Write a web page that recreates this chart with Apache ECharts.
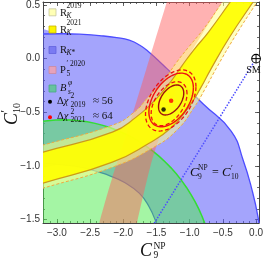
<!DOCTYPE html>
<html><head><meta charset="utf-8">
<script src="https://cdn.jsdelivr.net/npm/echarts@6/dist/echarts.min.js"></script>
<style>html,body{margin:0;padding:0;background:#fff}#c{width:266px;height:262px}</style>
</head><body><div id="c"></div>
<script>
// ---- axis ranges and ticks ----
const X_MIN = -3.209, X_MAX = 0.045, Y_MIN = -1.532, Y_MAX = 0.528;
const xMajor = [-3.0, -2.5, -2.0, -1.5, -1.0, -0.5, 0.0];
const xMinor = [-3.2,-3.1,-3.0,-2.9,-2.8,-2.7,-2.6,-2.5,-2.4,-2.3,-2.2,-2.1,-2.0,-1.9,-1.8,-1.7,-1.6,-1.5,-1.4,-1.3,-1.2,-1.1,-1.0,-0.9,-0.8,-0.7,-0.6,-0.5,-0.4,-0.3,-0.2,-0.1,0.0];
const yMajor = [-1.5, -1.0, -0.5, 0.0, 0.5];
const yMinor = [-1.5,-1.4,-1.3,-1.2,-1.1,-1.0,-0.9,-0.8,-0.7,-0.6,-0.5,-0.4,-0.3,-0.2,-0.1,0.0,0.1,0.2,0.3,0.4,0.5];

// ---- R_K bands (upper / lower edges, left to right) ----
const rk2021Upper = [[-3.30,-0.888],[-3.209,-0.872],[-2.164,-0.685],[-1.806,-0.545],[-1.537,-0.396],[-1.313,-0.237],[-1.119,-0.069],[-0.940,0.080],[-0.716,0.248],[-0.388,0.528],[-0.35,0.56]];
const rk2021Lower = [[-3.30,-1.178],[-3.209,-1.161],[-2.164,-0.965],[-1.612,-0.788],[-1.269,-0.639],[-1.015,-0.452],[-0.836,-0.275],[-0.672,-0.088],[-0.388,0.211],[-0.045,0.528],[-0.01,0.56]];
const rk2019Upper = [[-3.30,-0.822],[-3.209,-0.806],[-2.164,-0.620],[-1.836,-0.499],[-1.612,-0.349],[-1.388,-0.200],[-1.194,-0.032],[-1.015,0.108],[-0.791,0.276],[-0.507,0.528],[-0.47,0.56]];
const rk2019Lower = [[-3.30,-1.225],[-3.209,-1.208],[-2.164,-1.012],[-1.537,-0.825],[-1.194,-0.667],[-0.940,-0.461],[-0.761,-0.275],[-0.597,-0.088],[-0.313,0.211],[0.015,0.528],[0.05,0.56]];

// ---- R_K* region: outer and inner boundary ----
const rkstarOuter = [[-3.30,0.228],[-2.90,0.232],[-2.60,0.226],[-2.36,0.215],[-2.10,0.196],[-1.91,0.172],[-1.75,0.125],[-1.61,0.06],[-1.40,-0.06],[-1.22,-0.165],[-0.80,-0.42],[-0.373,-0.677],[-0.194,-0.947],[-0.06,-1.226],[0.03,-1.478],[0.06,-1.645]];
const rkstarInner = [[-3.30,-0.97],[-2.90,-0.99],[-2.60,-1.015],[-2.49,-1.035],[-2.36,-1.058],[-2.21,-1.090],[-1.98,-1.155],[-1.76,-1.254],[-1.62,-1.37],[-1.51,-1.52],[-1.46,-1.645]];

// ---- P5' region edges (top to bottom) ----
const p5Left  = [[-1.30,0.58],[-1.343,0.528],[-1.657,-0.107],[-1.910,-0.620],[-2.164,-1.105],[-2.358,-1.525],[-2.37,-1.60]];
const p5Right = [[-0.45,0.58],[-0.507,0.528],[-1.015,0.015],[-1.313,-0.480],[-1.567,-0.947],[-1.791,-1.525],[-1.80,-1.60]];

// ---- B_s^phi region: ellipse [cx, cy, rx, ry] ----
const bsphi = [-2.9, -2.1, 2.29, 1.53];

// ---- global fits: best-fit points and contours [cx, cy, sx, sy, rho] ----
const fit2019 = [-1.393, -0.473];
const fit2021 = [-1.279, -0.393];
const ell2021 = [[-1.279,-0.385,0.19,0.14,0.45],[-1.279,-0.385,0.335,0.25,0.45]];
const ell2019 = [[-1.31,-0.42,0.27,0.205,0.45],[-1.285,-0.39,0.38,0.285,0.45]];
const smPoint = [0, 0];
const diagLine = [[0,0],[-1.6,-1.6]];

const SERIF = '"Liberation Serif","DejaVu Serif",serif';
const SANS = '"Liberation Sans","DejaVu Sans",sans-serif';
const AX = '#404040';

function fmt(v){ return (v < 0 ? '\u2212' : '') + Math.abs(v).toFixed(1); }
function xAxisDef(pos, vals, len, line, labels){
  return {type:'value', position:pos, min:X_MIN, max:X_MAX, gridIndex:0,
    axisLine:{show:line, onZero:false, lineStyle:{color:AX, width:1}},
    axisTick:{show:true, inside:true, length:len, customValues:vals, lineStyle:{color:AX, width:0.8}},
    axisLabel:{show:labels, customValues:vals, formatter:fmt, margin:5, color:'#333', fontFamily:SANS, fontSize:10},
    splitLine:{show:false}};
}
function yAxisDef(pos, vals, len, line, labels){
  return {type:'value', position:pos, min:Y_MIN, max:Y_MAX, gridIndex:0,
    axisLine:{show:line, onZero:false, lineStyle:{color:AX, width:1}},
    axisTick:{show:true, inside:true, length:len, customValues:vals, lineStyle:{color:AX, width:0.8}},
    axisLabel:{show:labels, customValues:vals, formatter:fmt, margin:3, color:'#333', fontFamily:SANS, fontSize:10},
    splitLine:{show:false}};
}
const coordsOf = (api, arr) => arr.map(p => api.coord(p));
function ellipsePts(api, e){
  const [cx, cy, sx, sy, rho] = e; const pts = []; const k = Math.sqrt(1 - rho*rho);
  for (let i = 0; i <= 96; i++){ const t = i/96*2*Math.PI;
    pts.push(api.coord([cx + sx*Math.cos(t), cy + sy*(rho*Math.cos(t) + k*Math.sin(t))])); }
  return pts;
}
function custom(name, z, fn){
  return {type:'custom', name, z, clip:true, silent:true, xAxisIndex:0, yAxisIndex:0,
    data:[[xMajor[0], yMajor[0]]], renderItem:(params, api) => fn(api)};
}
const SM_ = 0.5;
const series = [
  custom('RKstar', 2, api => ({type:'group', children:[
    {type:'polygon', shape:{points:coordsOf(api, rkstarOuter.concat(rkstarInner.slice().reverse())), smooth:SM_}, style:{fill:'rgba(90,90,250,0.55)', stroke:'none'}},
    {type:'polyline', shape:{points:coordsOf(api, rkstarOuter), smooth:SM_}, style:{fill:'none', stroke:'#4d4dff', lineWidth:1.3}},
    {type:'polyline', shape:{points:coordsOf(api, rkstarInner), smooth:SM_}, style:{fill:'none', stroke:'#3a3aee', lineWidth:1.2}}
  ]})),
  custom('Bsphi', 3, api => {
    const [cx, cy, rx, ry] = bsphi; const pts = [];
    for (let i = 0; i <= 120; i++){ const t = i/120*2*Math.PI; pts.push(api.coord([cx + rx*Math.cos(t), cy + ry*Math.sin(t)])); }
    return {type:'polygon', shape:{points:pts}, style:{fill:'rgba(80,235,80,0.52)', stroke:'#33dd33', lineWidth:1.5}};
  }),
  custom('P5', 4, api => ({type:'polygon', shape:{points:coordsOf(api, p5Left.concat(p5Right.slice().reverse())), smooth:0.2},
    style:{fill:'rgba(255,95,95,0.48)', stroke:'none'}})),
  custom('RK2019', 5, api => ({type:'group', children:[
    {type:'polygon', shape:{points:coordsOf(api, rk2019Upper.concat(rk2019Lower.slice().reverse())), smooth:SM_}, style:{fill:'rgba(255,255,140,0.55)', stroke:'none'}},
    {type:'polyline', shape:{points:coordsOf(api, rk2019Upper), smooth:SM_}, style:{fill:'none', stroke:'#f0aa40', lineWidth:1, lineDash:[3,2]}},
    {type:'polyline', shape:{points:coordsOf(api, rk2019Lower), smooth:SM_}, style:{fill:'none', stroke:'#f0aa40', lineWidth:1, lineDash:[3,2]}}
  ]})),
  custom('RK2021', 6, api => ({type:'group', children:[
    {type:'polygon', shape:{points:coordsOf(api, rk2021Upper.concat(rk2021Lower.slice().reverse())), smooth:SM_}, style:{fill:'rgba(255,255,0,0.92)', stroke:'none'}},
    {type:'polyline', shape:{points:coordsOf(api, rk2021Upper), smooth:SM_}, style:{fill:'none', stroke:'#cc9a1a', lineWidth:1.2}},
    {type:'polyline', shape:{points:coordsOf(api, rk2021Lower), smooth:SM_}, style:{fill:'none', stroke:'#cc9a1a', lineWidth:1.2}}
  ]})),
  custom('contours', 7, api => ({type:'group', children:[
    {type:'polyline', shape:{points:ellipsePts(api, ell2019[1])}, style:{fill:'none', stroke:'#ee1111', lineWidth:1.3, lineDash:[4,2.5]}},
    {type:'polyline', shape:{points:ellipsePts(api, ell2019[0])}, style:{fill:'none', stroke:'#ee1111', lineWidth:1.3, lineDash:[4,2.5]}},
    {type:'polyline', shape:{points:ellipsePts(api, ell2021[1])}, style:{fill:'none', stroke:'#ee1111', lineWidth:1.4}},
    {type:'polyline', shape:{points:ellipsePts(api, ell2021[0])}, style:{fill:'none', stroke:'#a01010', lineWidth:1.4}}
  ]})),
  {type:'line', z:8, data:diagLine, symbol:'none', clip:true, silent:true,
    lineStyle:{type:'dotted', color:'#4d4dff', width:1.5}},
  {type:'scatter', z:9, data:[fit2019], symbol:'circle', symbolSize:4.5, itemStyle:{color:'#000'}, silent:true},
  {type:'scatter', z:9, data:[fit2021], symbol:'circle', symbolSize:4.5, itemStyle:{color:'#ff0000'}, silent:true},
  custom('SM', 10, api => { const c = api.coord(smPoint); const r = 4.3; return {type:'group', children:[
    {type:'circle', shape:{cx:c[0], cy:c[1], r}, style:{fill:'#fff', stroke:'#000', lineWidth:1.1}},
    {type:'line', shape:{x1:c[0]-r, y1:c[1], x2:c[0]+r, y2:c[1]}, style:{stroke:'#000', lineWidth:1}},
    {type:'line', shape:{x1:c[0], y1:c[1]-r, x2:c[0], y2:c[1]+r}, style:{stroke:'#000', lineWidth:1}}
  ]}; })
];
series[series.length-1].clip = false;

function T(text, x, y, size, opt){
  opt = opt || {};
  return {type:'text', x, y, z:100, silent:true, style:{text, fill:opt.fill || '#111',
    font:(opt.italic ? 'italic ' : '') + size + 'px ' + SERIF,
    align:opt.align || 'left', verticalAlign:'middle', textAlign:opt.align || 'left', textVerticalAlign:'middle', rich:opt.rich}};
}
function sq(y, fill, stroke){ return {type:'rect', z:100, silent:true, shape:{x:49, y:y-3.5, width:7, height:7}, style:{fill, stroke, lineWidth:0.8}}; }
const IT = (s) => ({i:{fontStyle:'italic', fontSize:s, fontFamily:SERIF}});

const graphics = [
  // legend
  sq(12.3, '#ffffb4', '#c8c8a0'),
  T('R', 60, 13, 10.5), T('2019', 66.5, 6.5, 7.5), T('K', 66.5, 16.5, 7.5, {italic:true}),
  sq(29.5, '#fcf400', '#c8b400'),
  T('R', 60, 30, 10.5), T('2021', 66.5, 23.5, 7.5), T('K', 66.5, 33.5, 7.5, {italic:true}),
  sq(50, '#7a7af2', '#6262dd'),
  T('R', 60, 50.5, 10.5), T('{i|K}*', 66.5, 53.5, 7.5, {rich:IT(7.5)}),
  sq(70, '#e6a2bb', '#cc8aa0'),
  T('P', 60, 70.5, 10.5), T('\u2032 2020', 66.5, 64.5, 7.5), T('5', 66.5, 74, 7.5),
  sq(88.5, '#66c29e', '#4aa884'),
  T('B', 60, 88.5, 10.5, {italic:true}), T('\u03c6', 68, 83.5, 7.5, {italic:true}), T('s', 68, 92.5, 7.5, {italic:true}),
  {type:'circle', z:100, silent:true, shape:{cx:50, cy:101.7, r:2}, style:{fill:'#000'}},
  T('\u0394{i|\u03c7}', 57, 101, 10.5, {rich:IT(10.5)}), T('2', 70.5, 96.5, 7.5), T('2019', 70.5, 105, 7.5), T('\u2248 56', 93, 101, 11),
  {type:'circle', z:100, silent:true, shape:{cx:50, cy:117.3, r:2}, style:{fill:'#ff0000'}},
  T('\u0394{i|\u03c7}', 57, 116.5, 10.5, {rich:IT(10.5)}), T('2', 70.5, 112, 7.5), T('2021', 70.5, 120.5, 7.5), T('\u2248 64', 93, 116.5, 11),
  // x axis title
  T('C', 140, 251, 18, {italic:true}), T('NP', 153.5, 246, 9.5), T('9', 153.5, 255.5, 9.5),
  // y axis title (rotated)
  {type:'group', x:12, y:125, rotation:Math.PI/2, z:100, children:[
    T('C', 0, 0, 18, {italic:true}), T('\u2032', 12.5, -6, 12), T('10', 12, 5, 10)
  ]},
  // annotation
  T('C', 190, 172.5, 13, {italic:true}), T('NP', 198, 168, 7.5), T('9', 198, 177, 7.5),
  T('=', 212, 173, 12), T('C', 222, 173, 13, {italic:true}), T('\u2032', 231, 168.5, 8.5), T('10', 231, 177.5, 7.5),
  T('SM', 253.5, 70, 10, {align:'center'})
];

const chart = echarts.init(document.getElementById('c'), null, {renderer:'canvas'});
chart.setOption({
  animation:false,
  backgroundColor:'#fff',
  grid:{left:43, right:5, top:2, bottom:39, containLabel:false},
  xAxis:[xAxisDef('bottom', xMajor, 4, true, true), xAxisDef('bottom', xMinor, 2, false, false),
         xAxisDef('top', xMajor, 4, true, false), xAxisDef('top', xMinor, 2, false, false)],
  yAxis:[yAxisDef('left', yMajor, 4, true, true), yAxisDef('left', yMinor, 2, false, false),
         yAxisDef('right', yMajor, 4, true, false), yAxisDef('right', yMinor, 2, false, false)],
  series,
  graphic:{elements:graphics}
});
</script></body></html>
